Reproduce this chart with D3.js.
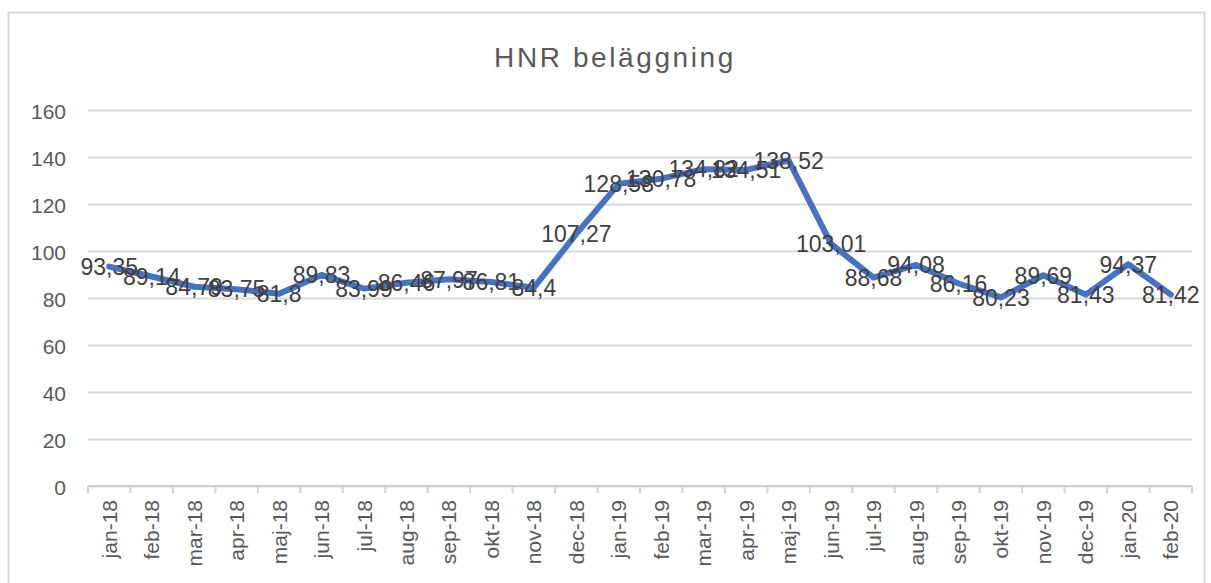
<!DOCTYPE html>
<html>
<head>
<meta charset="utf-8">
<script src="https://cdn.jsdelivr.net/npm/d3@7"></script>
<style>
  body { margin: 0; background: #fff; }
  text { font-family: "Liberation Sans", Arial, sans-serif; }
</style>
</head>
<body>
<div id="chart"></div>
<script>
var svgWidth = 1211;
var svgHeight = 583;

// chart data
var months = ["jan-18", "feb-18", "mar-18", "apr-18", "maj-18", "jun-18", "jul-18", "aug-18",
  "sep-18", "okt-18", "nov-18", "dec-18", "jan-19", "feb-19", "mar-19", "apr-19", "maj-19",
  "jun-19", "jul-19", "aug-19", "sep-19", "okt-19", "nov-19", "dec-19", "jan-20", "feb-20"];
var occupancy = [93.35, 89.14, 84.79, 83.75, 81.8, 89.83, 83.99, 86.46, 87.97, 86.81, 84.4,
  107.27, 128.58, 130.78, 134.82, 134.51, 138.52, 103.01, 88.68, 94.08, 86.16, 80.23, 89.69,
  81.43, 94.37, 81.42];
var yTicks = [0, 20, 40, 60, 80, 100, 120, 140, 160];
var chartTitle = "HNR beläggning";

var margin = { top: 110, right: 19, bottom: 97, left: 88 };
var width = svgWidth - margin.left - margin.right;
var height = svgHeight - margin.top - margin.bottom;

var svg = d3.select("#chart")
  .append("svg")
  .attr("width", svgWidth)
  .attr("height", svgHeight);

// outer chart frame
svg.append("rect")
  .attr("x", 8.5)
  .attr("y", 12.5)
  .attr("width", 1196)
  .attr("height", 600)
  .attr("fill", "none")
  .attr("stroke", "#d9d9d9")
  .attr("stroke-width", 2);

svg.append("text")
  .attr("x", 615)
  .attr("y", 67)
  .attr("text-anchor", "middle")
  .attr("fill", "#595959")
  .style("font-size", "28px")
  .style("letter-spacing", "2.6px")
  .text(chartTitle);

var chartGroup = svg.append("g")
  .attr("transform", "translate(" + margin.left + "," + margin.top + ")");

var xScale = d3.scaleBand()
  .domain(months)
  .range([0, width])
  .padding(0);

var yScale = d3.scaleLinear()
  .domain([0, 160])
  .range([height, 0]);

// gridlines + y labels
var leftAxis = d3.axisLeft(yScale)
  .tickValues(yTicks)
  .tickSize(-width)
  .tickPadding(22);

var yAxis = chartGroup.append("g").call(leftAxis);
yAxis.select(".domain").remove();
yAxis.selectAll(".tick line")
  .attr("stroke", "#d9d9d9")
  .attr("stroke-width", 2);
yAxis.selectAll(".tick text")
  .attr("fill", "#595959")
  .attr("dy", "0.42em")
  .style("font-size", "21px");

// x axis line and boundary ticks
var xAxisGroup = chartGroup.append("g")
  .attr("transform", "translate(0," + height + ")");

xAxisGroup.append("line")
  .attr("x1", 0)
  .attr("x2", width)
  .attr("stroke", "#d0d0d0")
  .attr("stroke-width", 2);

var bounds = months.map(d => xScale(d)).concat([width]);
xAxisGroup.selectAll(".btick")
  .data(bounds)
  .enter()
  .append("line")
  .attr("class", "btick")
  .attr("x1", d => d)
  .attr("x2", d => d)
  .attr("y1", 0)
  .attr("y2", 7)
  .attr("stroke", "#d0d0d0")
  .attr("stroke-width", 2);

xAxisGroup.selectAll(".xlabel")
  .data(months)
  .enter()
  .append("text")
  .attr("class", "xlabel")
  .attr("transform", d => "translate(" + (xScale(d) + xScale.bandwidth() / 2) + ",14) rotate(-90)")
  .attr("text-anchor", "end")
  .attr("dy", "0.36em")
  .attr("fill", "#595959")
  .style("font-size", "21px")
  .text(d => d);

// line
var line = d3.line()
  .x((d, i) => xScale(months[i]) + xScale.bandwidth() / 2)
  .y(d => yScale(d));

chartGroup.append("path")
  .datum(occupancy)
  .attr("fill", "none")
  .attr("stroke", "#4472c4")
  .attr("stroke-width", 6)
  .attr("stroke-linejoin", "round")
  .attr("stroke-linecap", "round")
  .attr("d", line);

// data labels (centered on points, Swedish decimal comma)
chartGroup.selectAll(".dlabel")
  .data(occupancy)
  .enter()
  .append("text")
  .attr("class", "dlabel")
  .attr("x", (d, i) => xScale(months[i]) + xScale.bandwidth() / 2)
  .attr("y", d => yScale(d))
  .attr("dy", "0.36em")
  .attr("text-anchor", "middle")
  .attr("fill", "#404040")
  .style("font-size", "23px")
  .text(d => String(d).replace(".", ","));
</script>
</body>
</html>
